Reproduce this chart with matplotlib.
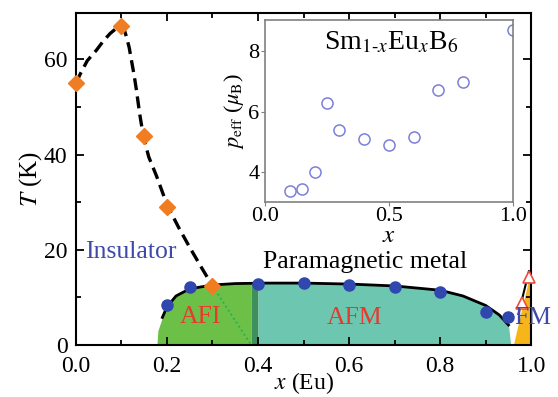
import numpy as np
import matplotlib
matplotlib.use("Agg")
import matplotlib.pyplot as plt
from matplotlib.ticker import MultipleLocator

plt.rcParams['font.family'] = ['Liberation Serif', 'DejaVu Serif']
plt.rcParams['mathtext.fontset'] = 'stix'

# orange diamonds: insulating crossover
ins_x = [0.0, 0.1, 0.15, 0.2, 0.3]
ins_T = [55, 66.9, 43.9, 29, 12.4]
# dashed guide to the eye
guide_x = [0.0, 0.01, 0.025, 0.045, 0.06, 0.075, 0.09, 0.1, 0.106, 0.111, 0.117,
           0.122, 0.128, 0.133, 0.14, 0.148, 0.16, 0.177, 0.2, 0.225, 0.25,
           0.275, 0.3]
guide_T = [55, 57, 59.7, 61.9, 63.8, 65.4, 66.6, 66.9, 66.3, 64.7, 62.5,
           59.8, 56.6, 53.5, 48.6, 43.9, 39.5, 35.5, 29.5, 24.8, 20.5,
           16.4, 12.4]

# blue circles: Neel temperature
tn_pts_x = [0.2, 0.25, 0.4, 0.5, 0.6, 0.7, 0.8, 0.9, 0.95]
tn_pts_T = [8.4, 12.2, 12.8, 13.1, 12.5, 12.1, 11.1, 7.0, 5.9]

# phase boundary (AFI / AFM)
bnd_x = np.array([0.178, 0.18, 0.19, 0.2, 0.22, 0.25, 0.3, 0.35, 0.385, 0.4,
                  0.5, 0.6, 0.7, 0.8, 0.85, 0.9, 0.93, 0.95, 0.955])
bnd_T = np.array([0, 3, 5.8, 8, 10.3, 11.8, 12.6, 12.9, 12.95, 13,
                  13, 12.8, 12.4, 11.5, 10.3, 8.3, 6.3, 4.2, 0])

# FM region and red open triangles: Curie temperature
fm_x = [0.962, 1.0, 1.0]
fm_T = [0, 15.5, 0]
tc_x = [0.98, 0.996]
tc_T = [8.8, 14.3]

# inset: effective moment
peff_x = [0.1, 0.15, 0.2, 0.25, 0.3, 0.4, 0.5, 0.6, 0.7, 0.8, 1.0]
peff = [3.36, 3.41, 4.0, 6.29, 5.38, 5.09, 4.87, 5.15, 6.72, 6.97, 8.72]

fig = plt.figure(figsize=(5.58, 3.97), dpi=100)
ax = fig.add_axes([0.136, 0.131, 0.816, 0.836])

afi = bnd_x <= 0.385
band = (bnd_x >= 0.385) & (bnd_x <= 0.4)
afm = bnd_x >= 0.4
ax.fill_between(bnd_x, bnd_T, where=afi, color='#6cbf47', lw=0, zorder=1)
ax.fill_between(bnd_x, bnd_T, where=band, color='#3d8f5c', lw=0, zorder=1)
ax.fill_between(bnd_x, bnd_T, where=afm, color='#6cc6b0', lw=0, zorder=1)
ax.fill(fm_x, fm_T, color='#f6b61a', lw=0, zorder=1)

ax.plot([0.3, 0.385], [12.4, 0], ls=':', color='#22b24c', lw=1.3, zorder=2)
ax.plot(bnd_x[2:-1], bnd_T[2:-1], color='black', lw=2, zorder=3)
ax.plot([0.972, 0.995], [6.5, 15.5], color='black', lw=1.5, zorder=3)
ax.plot(guide_x, guide_T, ls=(0, (3.6, 1.9)), color='black', lw=2.4, zorder=3)

ax.plot(tn_pts_x, tn_pts_T, 'o', color='#2f47ae', ms=8, zorder=4)
ax.plot(ins_x, ins_T, 'D', color='#f07d22', ms=8, zorder=5, clip_on=False)
ax.plot(tc_x, tc_T, '^', mfc='white', mec='#f04a3c', mew=1.2, ms=9, zorder=5,
        clip_on=False)

ax.text(0.02, 19.6, 'Insulator', color='#3f4aa8', fontsize=18.5, va='center')
ax.text(0.635, 17.4, 'Paramagnetic metal', color='black', fontsize=18.5,
        ha='center', va='center')
ax.text(0.273, 5.9, 'AFI', color='#e8392e', fontsize=18.5, ha='center', va='center')
ax.text(0.613, 5.7, 'AFM', color='#e8392e', fontsize=18.5, ha='center', va='center')
ax.text(0.963, 5.6, 'FM', color='#3f4aa8', fontsize=18.5, ha='left', va='center',
        clip_on=False, zorder=6)

ax.set_xlim(0, 1)
ax.set_ylim(0, 69.7)
ax.xaxis.set_major_locator(MultipleLocator(0.2))
ax.xaxis.set_minor_locator(MultipleLocator(0.1))
ax.yaxis.set_major_locator(MultipleLocator(20))
ax.yaxis.set_minor_locator(MultipleLocator(10))
ax.set_xticks([0, 0.2, 0.4, 0.6, 0.8, 1.0])
ax.set_xticklabels(['0.0', '0.2', '0.4', '0.6', '0.8', '1.0'])
ax.tick_params(which='both', direction='in', top=True, right=True,
               labelsize=17, width=1.3)
ax.tick_params(axis='x', pad=8)
ax.tick_params(axis='y', pad=6)
ax.tick_params(which='major', length=6)
ax.tick_params(which='minor', length=3.5)
for s in ax.spines.values():
    s.set_linewidth(1.5)
ax.set_xlabel(r'$x$ (Eu)', fontsize=17, labelpad=-5)
ax.set_ylabel(r'$T$ (K)', fontsize=18, labelpad=0)

# inset
ins = fig.add_axes([0.475, 0.492, 0.444, 0.458])
ins.set_facecolor('white')
ins.plot(peff_x, peff, 'o', mfc='none', mec='#7b80d8', mew=1.1, ms=8)
ins.set_xlim(0, 1)
ins.set_ylim(3.0, 9.05)
ins.set_xticks([0, 0.5, 1.0])
ins.set_xticklabels(['0.0', '0.5', '1.0'])
ins.set_yticks([4, 6, 8])
ins.tick_params(direction='out', length=3, labelsize=16, pad=1, color='#808080')
for s in ins.spines.values():
    s.set_color('#808080')
    s.set_linewidth(1.2)
ins.set_xlabel(r'$x$', fontsize=18, labelpad=-1)
ins.set_ylabel(r'$p_{\rm eff}$ ($\mu_{\rm B}$)', fontsize=16, labelpad=2)
ins.text(0.51, 0.873, r'Sm$_{1\text{-}x}$Eu$_x$B$_6$', transform=ins.transAxes,
         fontsize=20, ha='center', va='center')

fig.savefig('out.png', dpi=100)
